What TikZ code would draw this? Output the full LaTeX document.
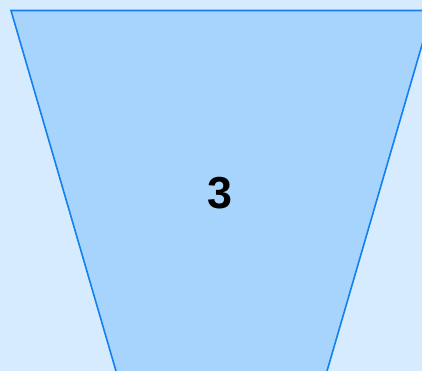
\documentclass[tikz,border=0pt]{standalone}
\usepackage{fontspec}
\setmainfont{Liberation Sans}
\usepackage{xcolor}
\usepackage{tikz}

\definecolor{bgblue}{HTML}{D7EBFE}
\definecolor{funnelfill}{HTML}{A6D4FD}
\definecolor{funneledge}{HTML}{1380EE}

\begin{document}
\begin{tikzpicture}[
  x=1bp, y=-1bp,
  funnel/.style={draw=funneledge, fill=funnelfill, line width=1.6bp, line join=miter},
  level/.style={font=\fontsize{45}{45}\selectfont\bfseries, text=black}
]
  % Background and frame
  \fill[bgblue] (0,0) rectangle (422,371);
  \useasboundingbox (0,0) rectangle (422,371);
  \clip (0,0) rectangle (422,371);

  % Funnel stage
  \draw[funnel] (11,10.5) -- (432,10.5) -- (324.4,380) -- (118.6,380) -- cycle;

  % Stage number
  \node[level] (stage) at (220,193.5) {3};
\end{tikzpicture}
\end{document}
